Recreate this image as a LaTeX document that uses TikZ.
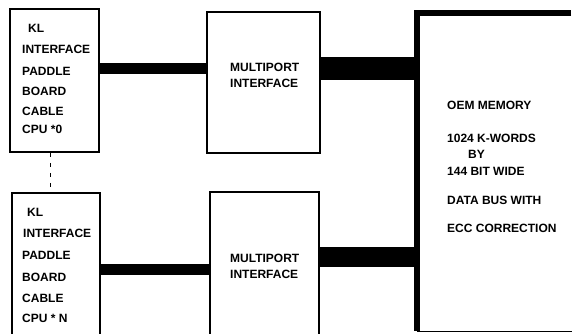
\documentclass[tikz,border=0pt]{standalone}
\usepackage{fontspec}
\setmainfont{Liberation Sans}
\begin{document}
\begin{tikzpicture}[x=1pt,y=-1pt,
  box/.style={draw=black,line width=1.6pt,fill=white,inner sep=0pt},
  lbl/.style={anchor=base west,inner sep=0pt,font=\fontsize{12}{14}\selectfont\bfseries},
  bus/.style={line width=#1,black}]
\useasboundingbox (0,0) rectangle (572,333);
\clip (0,0) rectangle (572,333);
\fill[white] (0,0) rectangle (572,333);
% boxes
\node[box,minimum width=89pt,minimum height=143pt] (kl1) at (54.5,80.5) {};
\node[box,minimum width=88pt,minimum height=150pt] (kl2) at (56,268) {};
\node[box,minimum width=113pt,minimum height=141pt] (mp1) at (263.5,82.5) {};
\node[box,minimum width=109pt,minimum height=150pt] (mp2) at (264.5,267) {};
\node[inner sep=0pt,minimum width=151pt,minimum height=318pt] (mem) at (492.5,172) {};
\draw[line width=1pt] (mem.south west) -- ([xshift=8pt]mem.south east);
\draw[line width=6pt,line join=miter] ([xshift=3pt]mem.north east) -- (mem.north west) -- (mem.south west);
% bus coordinates
\coordinate (y1) at (0,68.5);
\coordinate (y2) at (0,269.5);
\coordinate (y3) at (0,68.5);
\coordinate (y4) at (0,257);
\draw[bus=11pt] (kl1.east |- y1) -- (mp1.west |- y1);
\draw[bus=11pt] (kl2.east |- y2) -- (mp2.west |- y2);
\draw[bus=23pt] (mp1.east |- y3) -- (mem.west |- y3);
\draw[bus=20pt] (mp2.east |- y4) -- (mem.west |- y4);
% dashed link between CPU boxes
\draw[line width=1pt,dash pattern=on 4pt off 6pt] (kl1.south -| 50,0) -- (kl2.north -| 50,0);
% KL box texts
\node[lbl] (a1) at (28,32) {KL};
\node[lbl] (a2) at (22,53) {INTERFACE};
\node[lbl] (a3) at (22,75) {PADDLE};
\node[lbl] (a4) at (22,95) {BOARD};
\node[lbl] (a5) at (22,115) {CABLE};
\node[lbl] (a6) at (22,133) {CPU *0};
\node[lbl] (b1) at (27,216) {KL};
\node[lbl] (b2) at (23,237) {INTERFACE};
\node[lbl] (b3) at (22,259) {PADDLE};
\node[lbl] (b4) at (22,281) {BOARD};
\node[lbl] (b5) at (22,302) {CABLE};
\node[lbl] (b6) at (22,322) {CPU * N};
% multiport texts
\node[lbl] (m1) at (230,71) {MULTIPORT};
\node[lbl] (m2) at (230,87) {INTERFACE};
\node[lbl] (n1) at (230,262) {MULTIPORT};
\node[lbl] (n2) at (230,278) {INTERFACE};
% memory texts
\node[lbl] (t1) at (447,109) {OEM MEMORY};
\node[lbl] (t2) at (447,142) {1024 K-WORDS};
\node[lbl] (t3) at (468,158) {BY};
\node[lbl] (t4) at (447,175) {144 BIT WIDE};
\node[lbl] (t5) at (447,204) {DATA BUS WITH};
\node[lbl] (t6) at (447,232) {ECC CORRECTION};
\end{tikzpicture}
\end{document}
